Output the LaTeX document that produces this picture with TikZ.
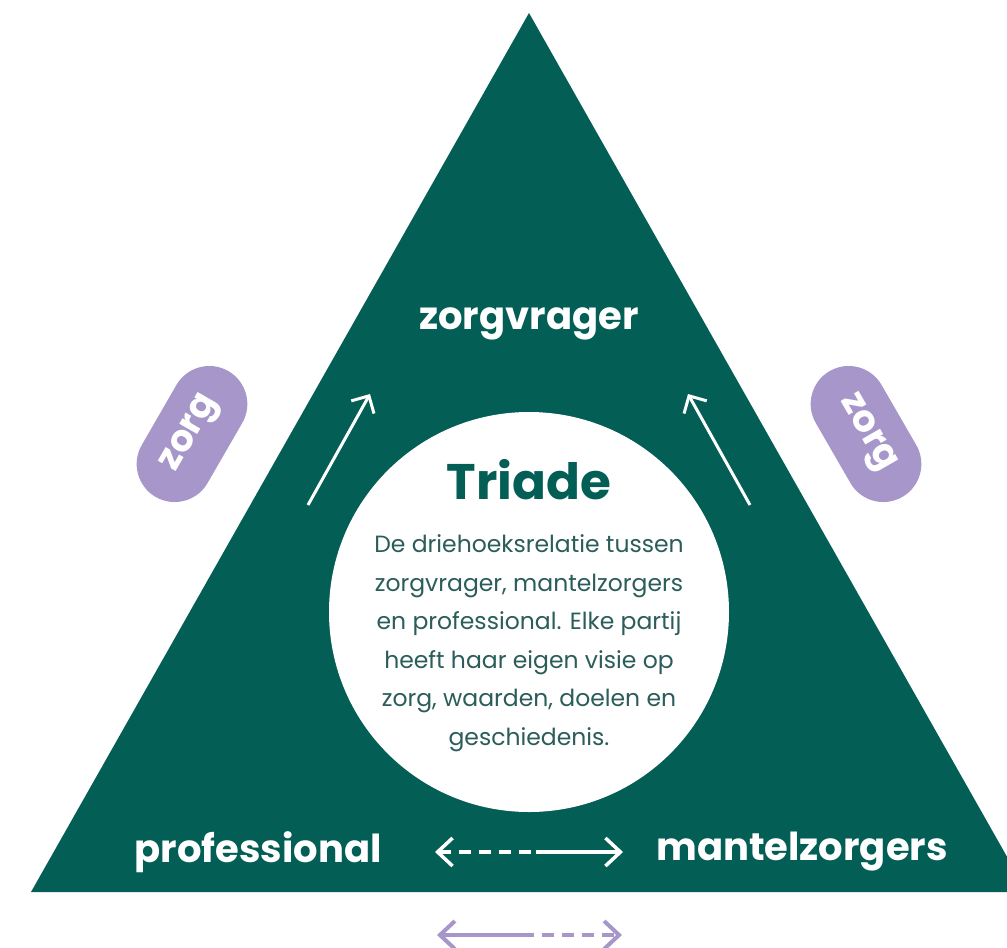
\documentclass[tikz,border=0pt]{standalone}
\usepackage{fontspec}
\setmainfont{Poppins}
\usetikzlibrary{arrows.meta,positioning,shapes.misc}
\definecolor{triadegreen}{HTML}{035E55}
\definecolor{zorgpurple}{HTML}{A796CA}
\definecolor{bodyteal}{HTML}{2B5D5A}
\tikzset{
  role/.style={text=white,font=\bfseries\fontsize{38.5}{44}\selectfont},
  pill/.style={shape=rounded rectangle,fill=zorgpurple,minimum width=152pt,minimum height=76pt,
    text=white,font=\bfseries\fontsize{37}{42}\selectfont},
  chev/.tip={Straight Barb[length=15pt,width=28pt]},
  upchev/.tip={Straight Barb[length=13pt,width=26pt]},
}
\begin{document}
\begin{tikzpicture}[x=1pt,y=-1pt]
    \useasboundingbox (0,0) rectangle (1007,948);
    % triangle and circle
    \fill[triadegreen] (529,13) -- (31,892) -- (1027,892) -- cycle;
    \node[circle,fill=white,minimum size=400pt] (circ) at (529,612) {};
    % texts
    \node[role] (zv) at (529,324) {zorgvrager};
    \node[text=triadegreen,font=\bfseries\fontsize{50}{60}\selectfont] (title) at (529,480) {Triade};
    \node[text=bodyteal,align=center,font=\fontsize{23.5}{38.5}\selectfont] (body) at (529,643)
      {De driehoeksrelatie tussen\\zorgvrager, mantelzorgers\\en professional. Elke partij\\heeft haar eigen visie op\\zorg, waarden, doelen en\\geschiedenis.};
    \node[role] (prof) at (258,852) {professional};
    \node[role] (mz) at (802,852) {mantelzorgers};
    % pills
    \node[pill,rotate=60] (zl) at (192,434) {zorg};
    \node[pill,rotate=-60] (zr) at (866,434) {zorg};
    % arrows up
    \coordinate (l0) at (308,505);
    \coordinate (l1) at (370,394);
    \coordinate (r0) at (750,505);
    \coordinate (r1) at (688,394);
    \draw[white,line width=3pt,-upchev] (l0) -- (l1);
    \draw[white,line width=3pt,-upchev] (r0) -- (r1);
    % arrows bottom
    \coordinate (b0) at (435,852);
    \coordinate (bm) at (536,852);
    \coordinate (b1) at (623,852);
    \draw[white,line width=3.5pt,dash pattern=on 12pt off 8pt,chev-] (b0) -- (bm);
    \draw[white,line width=3.5pt,-chev] (bm) -- (b1);
    \coordinate (p0) at (437,935);
    \coordinate (pm) at (522,935);
    \coordinate (p1) at (622,935);
    \draw[zorgpurple,line width=4pt,chev-] (p0) -- (pm);
    \draw[zorgpurple,line width=4pt,dash pattern=on 12pt off 8pt,-chev] (pm) -- (p1);
\end{tikzpicture}
\end{document}
